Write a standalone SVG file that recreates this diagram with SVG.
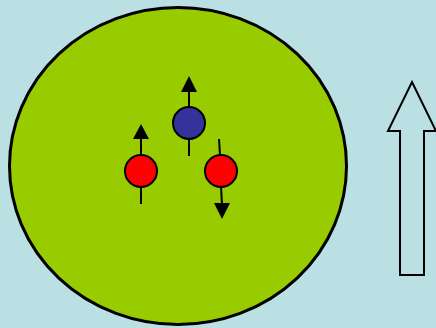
<svg xmlns="http://www.w3.org/2000/svg" width="436" height="328" viewBox="0 0 436 328">
<style>
.p{stroke:#000;stroke-width:2}
.l{stroke:#000;stroke-width:2;fill:none}
.h{fill:#000}
</style>
<rect width="436" height="328" fill="#bae0e3"/>
<g id="nucleus"><ellipse cx="178" cy="166" rx="168.5" ry="158.5" fill="#99cc00" stroke="#000" stroke-width="3"/></g>
<g id="connectors">
<line class="l" x1="189" y1="92" x2="189" y2="107"/>
<polygon class="h" points="189,76 197,92 181,92"/>
<line class="l" x1="189" y1="139" x2="189" y2="156"/>
<line class="l" x1="141" y1="139" x2="141" y2="155"/>
<polygon class="h" points="141,124 149,139 133,139"/>
<line class="l" x1="141" y1="187" x2="141" y2="204"/>
<line class="l" x1="219" y1="139" x2="220" y2="155"/>
<line class="l" x1="221" y1="187" x2="222" y2="204"/>
<polygon class="h" points="222,219 230,203 214,203"/>
</g>
<g id="blue"><circle class="p" cx="189" cy="123" r="16" fill="#333399"/></g>
<g id="red1"><circle class="p" cx="141" cy="171" r="16" fill="#ff0000"/></g>
<g id="red2"><circle class="p" cx="221" cy="171" r="16" fill="#ff0000"/></g>
<g id="bigarrow"><polygon points="412,82 436,131 424,131 424,275 400,275 400,131 388,131" fill="none" stroke="#000" stroke-width="2"/></g>
</svg>
